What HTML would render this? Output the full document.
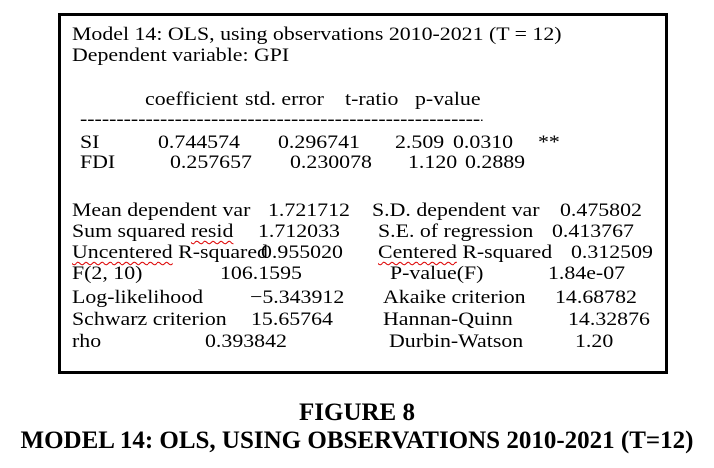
<!DOCTYPE html>
<html><head><meta charset="utf-8"><style>
body{margin:0;width:714px;height:468px;background:#fff;position:relative;overflow:hidden;font-family:"Liberation Serif",serif;color:#000}
#box{position:absolute;left:58px;top:13px;width:604px;height:355px;border:3px solid #000}
.t{position:absolute;font-size:19px;line-height:20px;white-space:pre;transform:scaleX(1.15);transform-origin:0 50%}
.w{text-decoration:underline wavy #d00;text-decoration-thickness:1px;text-underline-offset:3px}
.cap{position:absolute;left:0;width:714px;text-align:center;font-weight:bold;font-size:25px;line-height:28px}
</style></head><body>
<div id="box"></div>
<div class="t" style="left:72px;top:25px">Model 14: OLS, using observations 2010-2021 (T = 12)</div>
<div class="t" style="left:72px;top:46px">Dependent variable: GPI</div>
<div>
<span class="t" style="left:145px;top:90px">coefficient</span>
<span class="t" style="left:245px;top:90px">std. error</span>
<span class="t" style="left:345px;top:90px">t-ratio</span>
<span class="t" style="left:415px;top:90px">p-value</span>
</div>
<div class="t" style="left:80px;top:110px;width:350px;overflow:hidden">----------------------------------------------------------------</div>
<div>
<span class="t" style="left:80px;top:133px">SI</span>
<span class="t" style="left:158px;top:133px">0.744574</span>
<span class="t" style="left:278px;top:133px">0.296741</span>
<span class="t" style="left:395px;top:133px">2.509</span>
<span class="t" style="left:453px;top:133px">0.0310</span>
<span class="t" style="left:538px;top:133px">**</span>
</div>
<div>
<span class="t" style="left:80px;top:153px">FDI</span>
<span class="t" style="left:170px;top:153px">0.257657</span>
<span class="t" style="left:290px;top:153px">0.230078</span>
<span class="t" style="left:408px;top:153px">1.120</span>
<span class="t" style="left:465px;top:153px">0.2889</span>
</div>
<div>
<span class="t" style="left:72px;top:201px">Mean dependent var</span><span class="t" style="left:268px;top:201px">1.721712</span>
<span class="t" style="left:372px;top:201px">S.D. dependent var</span><span class="t" style="left:560px;top:201px">0.475802</span>
<span class="t" style="left:72px;top:222px">Sum squared <span class="w">resid</span></span><span class="t" style="left:258px;top:222px">1.712033</span>
<span class="t" style="left:378px;top:222px">S.E. of regression</span><span class="t" style="left:552px;top:222px">0.413767</span>
<span class="t" style="left:72px;top:243px"><span class="w">Uncentered</span> R-squared</span><span class="t" style="left:261px;top:243px">0.955020</span>
<span class="t" style="left:378px;top:243px"><span class="w">Centered</span> R-squared</span><span class="t" style="left:571px;top:243px">0.312509</span>
<span class="t" style="left:72px;top:264px">F(2, 10)</span><span class="t" style="left:220px;top:264px">106.1595</span>
<span class="t" style="left:390px;top:264px">P-value(F)</span><span class="t" style="left:548px;top:264px">1.84e-07</span>
<span class="t" style="left:72px;top:288px">Log-likelihood</span><span class="t" style="left:250px;top:288px">−5.343912</span>
<span class="t" style="left:383px;top:288px">Akaike criterion</span><span class="t" style="left:555px;top:288px">14.68782</span>
<span class="t" style="left:72px;top:310px">Schwarz criterion</span><span class="t" style="left:251px;top:310px">15.65764</span>
<span class="t" style="left:383px;top:310px">Hannan-Quinn</span><span class="t" style="left:568px;top:310px">14.32876</span>
<span class="t" style="left:72px;top:332px">rho</span><span class="t" style="left:205px;top:332px">0.393842</span>
<span class="t" style="left:389px;top:332px">Durbin-Watson</span><span class="t" style="left:575px;top:332px">1.20</span>
</div>
<div class="cap" style="top:399px">FIGURE 8</div>
<div class="cap" style="top:427px">MODEL 14: OLS, USING OBSERVATIONS 2010-2021 (T=12)</div>
</body></html>
